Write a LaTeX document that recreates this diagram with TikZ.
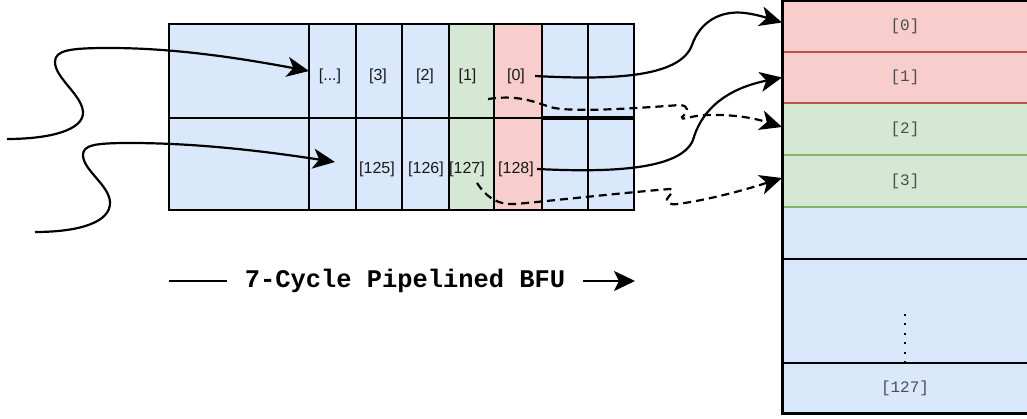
\documentclass[tikz,border=0pt]{standalone}
\usepackage{fontspec}
\setmainfont{Liberation Sans}
\newfontfamily\monofont{Liberation Mono}
\usetikzlibrary{arrows.meta}

\definecolor{cblue}{HTML}{DAE8FC}
\definecolor{cgreen}{HTML}{D5E8D4}
\definecolor{cred}{HTML}{F8CECC}
\definecolor{bgreen}{HTML}{82B366}
\definecolor{bred}{HTML}{B85450}
\definecolor{memtext}{HTML}{4D4D4D}

\tikzset{
  cell/.style={draw=black, line width=2pt, inner sep=0pt, outer sep=0pt, fill=cblue},
  toprow/.style={cell, minimum height=94pt},
  botrow/.style={cell, minimum height=92pt},
  lbl/.style={font=\fontsize{16}{18}\selectfont, text=black!90, inner sep=1pt},
  memrow/.style={inner sep=0pt, outer sep=0pt, line width=2pt, minimum width=246pt,
    font=\monofont\fontsize{16}{18}\selectfont, text=memtext},
  wire/.style={line width=2.2pt, -{Stealth[length=22pt,width=20pt,inset=6pt]}},
  dwire/.style={wire, dash pattern=on 8pt off 5pt},
}

\begin{document}
\begin{tikzpicture}[x=1pt,y=-1pt]
\useasboundingbox (0,0) rectangle (1027,419);
\clip (0,0) rectangle (1027,419);

% pipeline stages, upper lane
\node[toprow, minimum width=140pt] (a0) at (239,71) {};
\node[toprow, minimum width=47pt]  (a1) at (332.5,71) {};
\node[toprow, minimum width=46pt]  (a2) at (379,71) {};
\node[toprow, minimum width=47pt]  (a3) at (425.5,71) {};
\node[toprow, minimum width=45pt, fill=cgreen] (a4) at (471.5,71) {};
\node[toprow, minimum width=48pt, fill=cred]   (a5) at (518,71) {};
\node[toprow, minimum width=46pt]  (a6) at (565,71) {};
\node[toprow, minimum width=46pt]  (a7) at (611,71) {};

% pipeline stages, lower lane
\node[botrow, minimum width=140pt] (b0) at (239,164) {};
\node[botrow, minimum width=47pt]  (b1) at (332.5,164) {};
\node[botrow, minimum width=46pt]  (b2) at (379,164) {};
\node[botrow, minimum width=47pt]  (b3) at (425.5,164) {};
\node[botrow, minimum width=45pt, fill=cgreen] (b4) at (471.5,164) {};
\node[botrow, minimum width=48pt, fill=cred]   (b5) at (518,164) {};
\node[botrow, minimum width=46pt]  (b6) at (565,164) {};
\node[botrow, minimum width=46pt]  (b7) at (611,164) {};

\draw[line width=3.5pt] (a6.south west) -- (a7.south east);
\draw[line width=2.6pt] (a0.north west) rectangle (b7.south east);

% coefficient indices inside the stages
\node[lbl] (tdots) at (330,76) {[...]};
\node[lbl] (t3)    at (378,76) {[3]};
\node[lbl] (t2)    at (425,76) {[2]};
\node[lbl] (t1)    at (467.5,76) {[1]};
\node[lbl] (t0)    at (516,76) {[0]};
\node[lbl] (t125)  at (377,169) {[125]};
\node[lbl] (t126)  at (426,169) {[126]};
\node[lbl] (t127)  at (467,169) {[127]};
\node[lbl] (t128)  at (516,169) {[128]};

% memory column: blue rows first, then green, then red borders on top
\node[memrow, fill=cblue, draw=black, minimum height=52pt]  (r4) at (905,233) {};
\node[memrow, fill=cblue, draw=black, minimum height=104pt] (r5) at (905,311) {};
\node[memrow, fill=cblue, draw=black, minimum height=50pt]  (r6) at (905,388) {[127]};
\node[memrow, fill=cgreen, draw=bgreen, minimum height=52pt] (r2) at (905,129) {[2]};
\node[memrow, fill=cgreen, draw=bgreen, minimum height=52pt] (r3) at (905,181) {[3]};
\node[memrow, fill=cred, draw=bred, minimum height=51pt] (r0) at (905,26.5) {[0]};
\node[memrow, fill=cred, draw=bred, minimum height=51pt] (r1) at (905,77.5) {[1]};
\draw[line width=3pt] (r0.north east) -- (r0.north west) -- (r6.south west) -- (r6.south east);

% vertical ellipsis
\draw[line width=2pt, dash pattern=on 2pt off 7.4pt] (905,314) -- (905,364);

% incoming data
\coordinate (in1) at (7,139);
\coordinate (in2) at (35,232);
\coordinate (e2) at (335,162);
\draw[wire] (in1) .. controls (50,139) and (84,130) .. (83,112)
  .. controls (82,95) and (55,78) .. (55,62)
  .. controls (55,50) and (70,48) .. (110,48)
  .. controls (180,48) and (250,60) .. (a1.west);
\draw[wire] (in2) .. controls (80,232) and (111,222) .. (110,202)
  .. controls (109,185) and (83,170) .. (83,155)
  .. controls (83,145) and (95,143) .. (130,143)
  .. controls (200,143) and (270,152) .. (e2);

% write-back of results
\draw[wire] ([xshift=9pt]t0.east) .. controls (610,80) and (680,78) .. (692,45)
  .. controls (700,22) and (720,10) .. (745,13)
  .. controls (760,15) and (770,19) .. ([yshift=4pt]r0.west);
\draw[wire] ([xshift=2pt]t128.east) .. controls (600,172) and (680,172) .. (693,140)
  .. controls (700,115) and (720,90) .. (r1.west);

\coordinate (d1) at (488,99);
\coordinate (d2) at (477,183);
\draw[dwire] (d1) .. controls (515,95) and (530,100) .. (550,107)
  .. controls (570,113) and (640,108) .. (680,105)
  .. controls (690,106) and (688,112) .. (682,117)
  .. controls (680,121) and (690,116) .. (705,115)
  .. controls (740,114) and (760,120) .. ([yshift=2pt]r2.west);
\draw[dwire] (d2) .. controls (485,195) and (495,205) .. (515,204)
  .. controls (540,202) and (620,193) .. (670,189)
  .. controls (676,191) and (669,195) .. (667,199)
  .. controls (666,203) and (670,205) .. (678,204)
  .. controls (720,198) and (760,185) .. ([yshift=3pt]r3.west);

% pipeline caption
\node[font=\monofont\bfseries\fontsize{25.4}{28}\selectfont] (bfu) at (405,281) {7-Cycle Pipelined BFU};
\coordinate (cl) at (169,281);
\coordinate (cr) at (635,281);
\draw[line width=2pt] (cl) -- ([xshift=-14pt]bfu.west);
\draw[line width=2pt, -{Stealth[length=21pt,width=20pt,inset=5pt]}] ([xshift=14pt]bfu.east) -- (cr);
\end{tikzpicture}
\end{document}
